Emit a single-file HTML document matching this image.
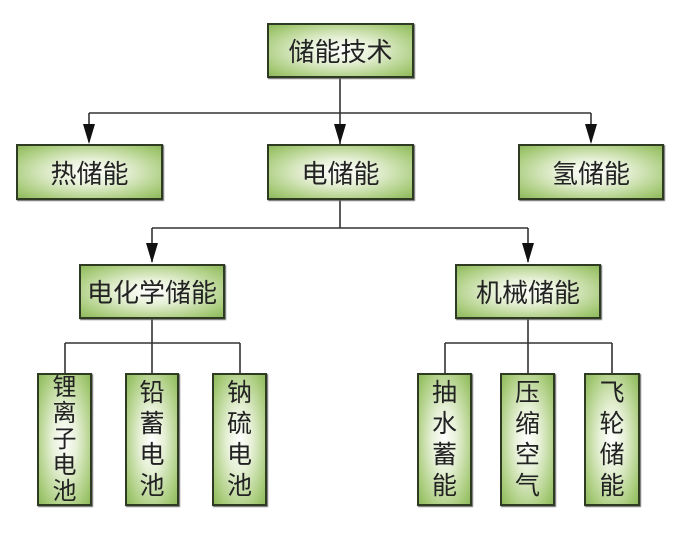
<!DOCTYPE html>
<html><head><meta charset="utf-8"><style>
html,body{margin:0;padding:0;background:#fff;width:676px;height:536px;overflow:hidden;position:relative}
.b{position:absolute;box-sizing:border-box;border:2px solid #2e3a22;background:radial-gradient(ellipse at center,#ffffff 0%,#e6f0d6 35%,#a9cc7c 80%,#8fba5c 100%);display:flex;align-items:center;justify-content:center;font-family:"Liberation Sans","Noto Sans CJK SC",sans-serif;color:#222;font-size:26px;box-shadow:1px 1px 1px #666}
.v{flex-direction:column;font-size:24px;line-height:26px;text-align:center}
.v4{font-size:25px;line-height:31px}
</style></head><body>
<svg width="676" height="536" style="position:absolute;left:0;top:0" stroke="#333" stroke-width="1.6" fill="none">
<path d="M340 78V144M89 113H591M89 113V142M591 113V142"/>
<path d="M340 200V228M152 228H528M152 228V262M528 228V262"/>
<path d="M152 319V373M65 343H240M65 343V374M240 343V374"/>
<path d="M528 319V374M445 343H612M445 343V374M612 343V374"/>
<g fill="#111" stroke="none">
<path d="M334 124L346 124L340 144Z"/><path d="M83 124L95 124L89 144Z"/><path d="M585 124L597 124L591 144Z"/>
<path d="M146 243L158 243L152 263Z"/><path d="M522 243L534 243L528 263Z"/>
</g></svg>
<div class="b" style="left:267px;top:23px;width:147px;height:55px">储能技术</div>
<div class="b" style="left:16px;top:144px;width:147px;height:56px">热储能</div>
<div class="b" style="left:267px;top:144px;width:147px;height:56px">电储能</div>
<div class="b" style="left:518px;top:144px;width:146px;height:56px">氢储能</div>
<div class="b" style="left:79px;top:264px;width:146px;height:55px">电化学储能</div>
<div class="b" style="left:455px;top:264px;width:146px;height:55px">机械储能</div>
<div class="b v" style="left:37px;top:373px;width:55px;height:133px"><span>锂</span><span>离</span><span>子</span><span>电</span><span>池</span></div>
<div class="b v v4" style="left:125px;top:373px;width:54px;height:133px"><span>铅</span><span>蓄</span><span>电</span><span>池</span></div>
<div class="b v v4" style="left:212px;top:373px;width:55px;height:133px"><span>钠</span><span>硫</span><span>电</span><span>池</span></div>
<div class="b v v4" style="left:417px;top:373px;width:55px;height:133px"><span>抽</span><span>水</span><span>蓄</span><span>能</span></div>
<div class="b v v4" style="left:500px;top:373px;width:55px;height:133px"><span>压</span><span>缩</span><span>空</span><span>气</span></div>
<div class="b v v4" style="left:584px;top:373px;width:56px;height:133px"><span>飞</span><span>轮</span><span>储</span><span>能</span></div>
</body></html>
